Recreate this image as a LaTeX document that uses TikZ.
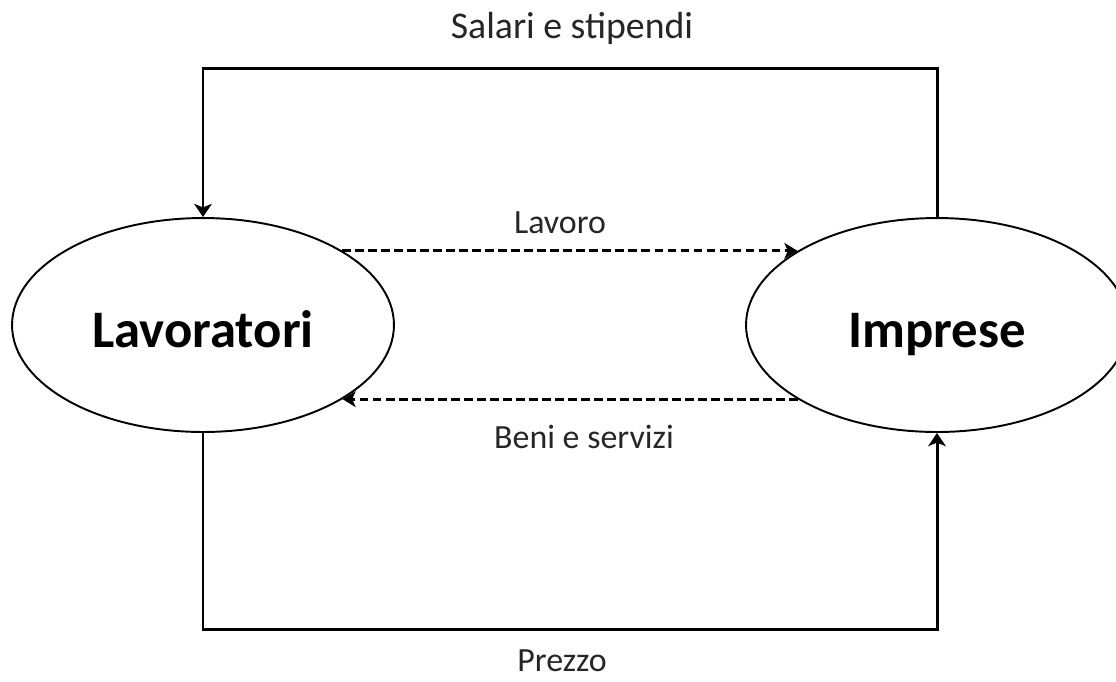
\documentclass[tikz,border=0pt]{standalone}
\usepackage{fontspec}
\setmainfont{Carlito}
\usetikzlibrary{shapes.geometric,arrows.meta}
\begin{document}
\begin{tikzpicture}[x=0.02cm,y=-0.02cm,
  agent/.style={ellipse,draw,line width=1.1pt,minimum width=7.64cm,minimum height=4.28cm,inner sep=0pt,
    text height=0.88cm,text depth=0cm,
    font=\fontsize{30}{36}\selectfont\bfseries},
  flow/.style={line width=1.7pt,-{Stealth[length=7.5pt,width=10pt,inset=2pt]}},
  dflow/.style={line width=1.6pt,dash pattern=on 5pt off 2.4pt,-{Stealth[length=7.5pt,width=9pt,inset=2pt]}},
  lbl/.style={font=\fontsize{19.3}{23}\selectfont,text=black!85,inner sep=0pt,anchor=base},
  biglbl/.style={font=\fontsize{21.5}{26}\selectfont,text=black!85,inner sep=0pt,anchor=base}]
\useasboundingbox (0,0) rectangle (1116,681);
\node[agent] (lav) at (203,325) {Lavoratori};
\node[agent] (imp) at (937,325) {Imprese};
\coordinate (tl) at (203,68);
\coordinate (tr) at (937,68);
\coordinate (bl) at (203,629);
\coordinate (br) at (937,629);
\draw[flow,line join=miter] (imp.north) -- (tr) -- (tl) -- (lav.north);
\draw[flow,line join=miter] (lav.south) -- (bl) -- (br) -- (imp.south);
\draw[dflow] (lav.28) -- (imp.152);
\draw[dflow] (imp.208) -- (lav.332);
\node[biglbl] (sal) at (572,38) {Salari e stipendi};
\node[lbl] (lavoro) at (560,233) {Lavoro};
\node[lbl] (beni) at (584,448) {Beni e servizi};
\node[lbl] (prezzo) at (562,671) {Prezzo};
\end{tikzpicture}
\end{document}
